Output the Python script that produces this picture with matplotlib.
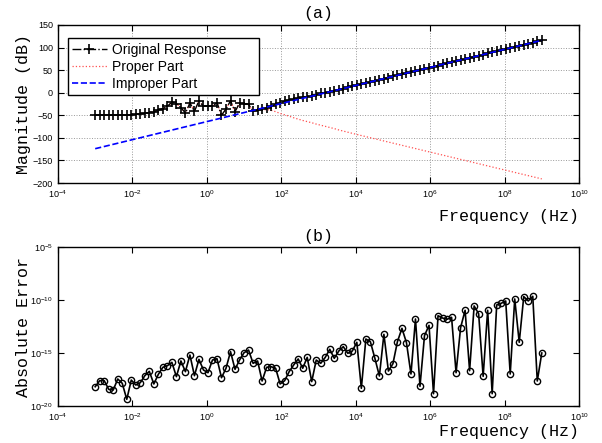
import numpy as np
import matplotlib
matplotlib.use("Agg")
import matplotlib.pyplot as plt

# frequency grid: 100 log-spaced points, 1e-3 .. 1e9 Hz
FREQ = np.logspace(-3, 9, 100)

ORIGINAL_DB = [
    -50, -50, -50, -50, -50, -50, -50, -50, -49, -48,
    -47, -45.5, -44, -42, -39, -35, -30, -21, -24, -33,
    -45, -23, -41, -18, -30, -30, -30, -22, -50, -36,
    -18, -42, -23, -24, -26, -41, -38, -37, -33, -30,
    -26, -22, -19, -16.5, -14.5, -12.5, -10.5, -8.5, -6.2, -4,
    -1.7, -0.4, 2.1, 4.5, 6.9, 9.3, 11.8, 14.2, 16.6, 19.0,
    21.5, 23.9, 26.3, 28.7, 31.2, 33.6, 36.0, 38.4, 40.8, 43.3,
    45.7, 48.1, 50.5, 53.0, 55.4, 57.8, 60.2, 62.7, 65.1, 67.5,
    69.9, 72.4, 74.8, 77.2, 79.6, 82.1, 84.5, 86.9, 89.3, 91.8,
    94.2, 96.6, 99.0, 101.5, 103.9, 106.3, 108.7, 111.2, 113.6, 116.0,
]

PROPER_DB = [
    -50, -50, -50, -50, -50, -50, -50, -50, -49, -48,
    -47, -45.5, -44, -42, -39, -35, -30, -21, -24, -33,
    -45, -23, -41, -18, -30, -30, -30, -22, -50, -36,
    -18, -42, -23, -24, -26, -41.5, -39, -39, -37, -39,
    -42, -46, -49, -52, -55.5, -58.5, -61.5, -64, -66.5, -69.5,
    -72, -74.5, -77, -79.5, -82.5, -85, -87.5, -90, -92.5, -94.9,
    -97.3, -99.7, -102.1, -104.5, -106.9, -109.3, -111.7, -114.1, -116.5, -118.9,
    -121.3, -123.7, -126.1, -128.5, -130.9, -133.3, -135.7, -138.1, -140.5, -142.9,
    -145.3, -147.7, -150.1, -152.5, -154.9, -157.3, -159.7, -162.1, -164.5, -166.9,
    -169.3, -171.7, -174.1, -176.5, -178.9, -181.3, -183.7, -186.1, -188.5, -190.9,
]

# improper part is a straight line, read at each decade
IMPROPER_FREQ = [1e-3, 1e-2, 1e-1, 1e0, 1e1, 1e2, 1e3, 1e4, 1e5, 1e6, 1e7, 1e8, 1e9]
IMPROPER_DB = [-124, -104, -84, -64, -44, -24, -4, 16, 36, 56, 76, 96, 116]

# absolute error, as log10 exponents
ERROR_EXP = [
    -18.18, -17.61, -17.61, -18.43, -18.49, -17.45, -17.86, -19.37, -17.55, -18.02,
    -17.80, -17.14, -16.73, -17.92, -17.01, -16.35, -16.20, -15.88, -17.23, -15.75,
    -16.76, -15.19, -17.14, -15.60, -16.60, -16.86, -15.66, -15.54, -17.33, -16.44,
    -14.87, -16.54, -15.66, -14.97, -14.72, -15.97, -15.75, -17.64, -16.35, -16.29,
    -16.44, -17.92, -17.61, -16.76, -16.13, -15.56, -16.44, -15.41, -17.70, -15.66,
    -15.97, -15.41, -14.65, -15.50, -14.81, -14.40, -15.03, -14.81, -13.99, -18.33,
    -13.68, -13.93, -15.50, -17.17, -13.24, -16.70, -16.01, -13.93, -12.67, -14.02,
    -16.98, -11.79, -18.14, -13.36, -12.39, -18.84, -11.48, -11.70, -11.82, -11.63,
    -16.86, -12.61, -10.97, -16.67, -10.56, -11.29, -17.20, -10.97, -18.84, -10.47,
    -10.31, -10.09, -16.98, -9.90, -13.99, -9.68, -10.09, -9.65, -17.64, -15.00,
]

XTICKS = [1e-4, 1e-2, 1e0, 1e2, 1e4, 1e6, 1e8, 1e10]
MONO = "Liberation Mono"
SANS = "Liberation Sans"


def style_axes(ax):
    ax.set_xscale("log")
    ax.set_xlim(1e-4, 1e10)
    ax.set_xticks(XTICKS)
    ax.xaxis.set_minor_locator(matplotlib.ticker.NullLocator())
    ax.tick_params(direction="in", top=True, right=True, labelsize=6.5,
                   length=4, width=0.8)
    for lab in ax.get_xticklabels() + ax.get_yticklabels():
        lab.set_fontfamily(SANS)
    for s in ax.spines.values():
        s.set_linewidth(1.0)


fig = plt.figure(figsize=(6.02, 4.43), dpi=100)
ax1 = fig.add_axes([0.0963, 0.5869, 0.8655, 0.3567])
ax2 = fig.add_axes([0.0963, 0.0835, 0.8655, 0.3589])

# (a) magnitude
ax1.plot(FREQ, PROPER_DB, color="#ff5050", linestyle=":", linewidth=0.9,
         label="Proper Part", zorder=2)
ax1.plot(FREQ, ORIGINAL_DB, color="black", linestyle="-.", linewidth=1.0,
         marker="+", markersize=7.5, markeredgewidth=1.2,
         label="Original Response", zorder=3)
ax1.plot(IMPROPER_FREQ, IMPROPER_DB, color="blue", linestyle="--", linewidth=1.2,
         label="Improper Part", zorder=4)
style_axes(ax1)
ax1.set_ylim(-200, 150)
ax1.set_yticks(np.arange(-200, 151, 50))
ax1.grid(True, linestyle=":", color="#999999", linewidth=0.7)
ax1.set_axisbelow(True)

handles, labels = ax1.get_legend_handles_labels()
order = [1, 0, 2]
leg = ax1.legend([handles[i] for i in order], [labels[i] for i in order],
                 loc="upper left", bbox_to_anchor=(0.019, 0.915, 0.366, 0.0),
                 mode="expand",
                 prop={"family": SANS, "size": 10}, fancybox=False,
                 edgecolor="black", framealpha=1, handlelength=2.5,
                 handletextpad=0.35, borderpad=0.3, labelspacing=0.22,
                 borderaxespad=0)
leg.get_frame().set_linewidth(1.0)

ax1.set_title("(a)", family=MONO, fontsize=12, pad=5)
ax1.set_ylabel("Magnitude (dB)", family=MONO, fontsize=12)
ax1.yaxis.set_label_coords(-0.052, 0.5)
ax1.text(1.0, -0.215, "Frequency (Hz)", transform=ax1.transAxes,
         ha="right", va="center", family=MONO, fontsize=12)

# (b) absolute error
ax2.plot(FREQ, 10.0 ** np.array(ERROR_EXP), color="black", linewidth=1.2,
         marker="o", markersize=4.5, markerfacecolor="none",
         markeredgewidth=1.0)
style_axes(ax2)
ax2.set_yscale("log")
ax2.set_ylim(1e-20, 1e-5)
ax2.set_yticks([1e-20, 1e-15, 1e-10, 1e-5])
ax2.yaxis.set_minor_locator(matplotlib.ticker.NullLocator())
for lab in ax2.get_yticklabels():
    lab.set_fontfamily(SANS)
ax2.set_title("(b)", family=MONO, fontsize=12, pad=4)
ax2.set_ylabel("Absolute Error", family=MONO, fontsize=12)
ax2.yaxis.set_label_coords(-0.052, 0.5)
ax2.text(1.0, -0.163, "Frequency (Hz)", transform=ax2.transAxes,
         ha="right", va="center", family=MONO, fontsize=12)

fig.savefig("out.png", dpi=100)
